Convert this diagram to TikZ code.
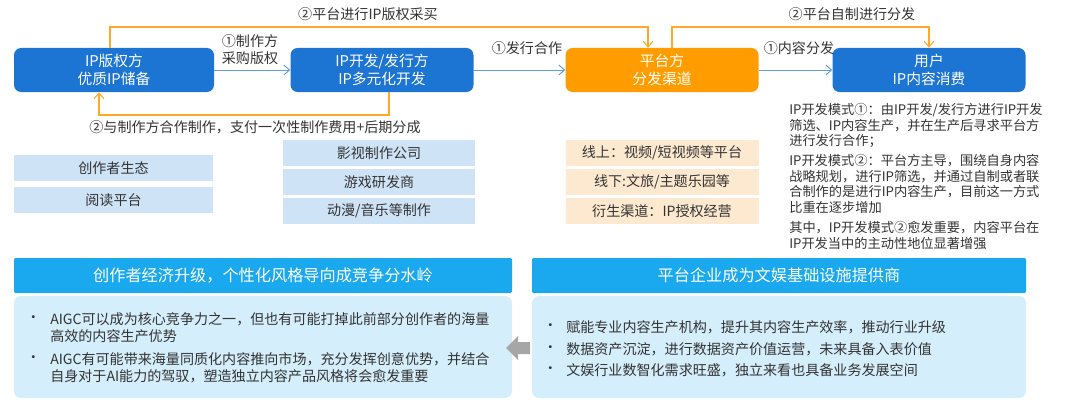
\documentclass[tikz,border=0pt]{standalone}
\usepackage{fontspec}
\setmainfont{Noto Sans CJK SC}
\usetikzlibrary{arrows.meta}
\definecolor{dblue}{HTML}{1C74D3}
\definecolor{orng}{HTML}{FF9D00}
\definecolor{lorng}{HTML}{FFA929}
\definecolor{lblue}{HTML}{CFE3F7}
\definecolor{lor}{HTML}{FDE9CF}
\definecolor{hdr}{HTML}{1AA8EE}
\definecolor{body}{HTML}{D5EEFB}
\definecolor{txt}{HTML}{333333}
\begin{document}
\begin{tikzpicture}[x=0.025cm,y=-0.025cm,
 main/.style={rounded corners=5pt,minimum width=5cm,minimum height=1.1cm,text=white,align=center,font=\fontsize{10.5}{13}\selectfont,inner sep=0pt},
 tag/.style={minimum height=0.65cm,text=txt,font=\fontsize{10}{12}\selectfont,inner sep=0pt},
 lbl/.style={text=txt,font=\fontsize{10}{12}\selectfont,align=center,inner sep=1pt},
 barr/.style={draw=dblue!70!white,-{Straight Barb[length=4pt,width=7pt]},line width=0.7pt},
 oarr/.style={draw=lorng,-{Straight Barb[length=4pt,width=7pt]},line width=0.8pt},
 para/.style={anchor=north west,text=txt,font=\fontsize{9.4}{11.2}\selectfont,align=left,inner sep=0pt},
 blt/.style={anchor=west,text=txt,font=\fontsize{10}{12.3}\selectfont,align=left,inner sep=0pt}]
\useasboundingbox (0,0) rectangle (1080,407);
\node[main,fill=dblue,minimum width=200*0.025cm] (a) at (114,70) {IP版权方\\优质IP储备};
\node[main,fill=dblue,minimum width=183*0.025cm] (b) at (382,70) {IP开发/发行方\\IP多元化开发};
\node[main,fill=orng,minimum width=193*0.025cm] (c) at (662,70) {平台方\\分发渠道};
\node[main,fill=dblue,minimum width=193*0.025cm] (d) at (929,70) {用户\\IP内容消费};
\draw[barr] (a) -- (b);
\draw[barr] (b) -- (c);
\draw[barr] (c) -- (d);
\node[lbl] (l1) at (250,50) {①制作方\\采购版权};
\node[lbl] (l2) at (527,48) {①发行合作};
\node[lbl] (l3) at (799,48) {①内容分发};
\coordinate (t1) at (110,27); \coordinate (t2) at (648,27);
\draw[oarr] (a.north -| t1) -- (t1) -- (t2) -- (c.north -| t2);
\node[lbl] (l4) at (368,14) {②平台进行IP版权采买};
\coordinate (t3) at (672,27); \coordinate (t4) at (929,27);
\draw[oarr] (c.north -| t3) -- (t3) -- (t4) -- (d.north -| t4);
\node[lbl] (l5) at (852,14) {②平台自制进行分发};
\coordinate (t5) at (389,115); \coordinate (t6) at (99,115);
\draw[oarr] (b.south -| t5) -- (t5) -- (t6) -- (a.south -| t6);
\node[lbl] (l6) at (255,127) {②与制作方合作制作，支付一次性制作费用+后期分成};
\node[tag,fill=lblue,minimum width=199*0.025cm] (e1) at (113.5,168) {创作者生态};
\node[tag,fill=lblue,minimum width=199*0.025cm] (e2) at (113.5,200) {阅读平台};
\node[tag,fill=lblue,minimum width=192*0.025cm] (f1) at (379,153) {影视制作公司};
\node[tag,fill=lblue,minimum width=192*0.025cm] (f2) at (379,182) {游戏研发商};
\node[tag,fill=lblue,minimum width=192*0.025cm] (f3) at (379,211) {动漫/音乐等制作};
\node[tag,fill=lor,minimum width=193*0.025cm] (g1) at (662,153) {线上：视频/短视频等平台};
\node[tag,fill=lor,minimum width=193*0.025cm] (g2) at (662,182) {线下:文旅/主题乐园等};
\node[tag,fill=lor,minimum width=193*0.025cm] (g3) at (662,211) {衍生渠道：IP授权经营};
\node[para] (p1) at (789,103) {IP开发模式①：由IP开发/发行方进行IP开发\\筛选、IP内容生产，并在生产后寻求平台方\\进行发行合作；};
\node[para] (p2) at (789,154) {IP开发模式②：平台方主导，围绕自身内容\\战略规划，进行IP筛选，并通过自制或者联\\合制作的是进行IP内容生产，目前这一方式\\比重在逐步增加};
\node[para] (p3) at (789,221) {其中，IP开发模式②愈发重要，内容平台在\\IP开发当中的主动性地位显著增强};
\node[fill=hdr,minimum width=498*0.025cm,minimum height=35*0.025cm,text=white,font=\fontsize{11.5}{13}\selectfont,inner sep=0pt,rounded corners=1pt] (h1) at (263,275.5) {创作者经济升级，个性化风格导向成竞争分水岭};
\node[fill=hdr,minimum width=494*0.025cm,minimum height=35*0.025cm,text=white,font=\fontsize{11.5}{13}\selectfont,inner sep=0pt,rounded corners=1pt] (h2) at (779,275.5) {平台企业成为文娱基础设施提供商};
\node[fill=body,minimum width=498*0.025cm,minimum height=102*0.025cm,inner sep=0pt,rounded corners=5pt] (b1) at (263,347) {};
\node[fill=body,minimum width=494*0.025cm,minimum height=102*0.025cm,inner sep=0pt,rounded corners=5pt] (b2) at (779,347) {};
\node[blt] (u1) at (26,319) {•}; \node[blt] (v1) at (50,328) {AIGC可以成为核心竞争力之一，但也有可能打掉此前部分创作者的海量\\高效的内容生产优势};
\node[blt] (u2) at (26,359) {•}; \node[blt] (v2) at (50,368) {AIGC有可能带来海量同质化内容推向市场，充分发挥创意优势，并结合\\自身对于AI能力的驾驭，塑造独立内容产品风格将会愈发重要};
\node[blt] (u3) at (543,327) {•}; \node[blt] (v3) at (566,327) {赋能专业内容生产机构，提升其内容生产效率，推动行业升级};
\node[blt] (u4) at (543,349) {•}; \node[blt] (v4) at (566,349) {数据资产沉淀，进行数据资产价值运营，未来具备入表价值};
\node[blt] (u5) at (543,370) {•}; \node[blt] (v5) at (566,370) {文娱行业数智化需求旺盛，独立来看也具备业务发展空间};
\fill[gray!70] (506,348) -- (518,336) -- (518,342) -- (530,342) -- (530,354) -- (518,354) -- (518,360) -- cycle;
\end{tikzpicture}
\end{document}
